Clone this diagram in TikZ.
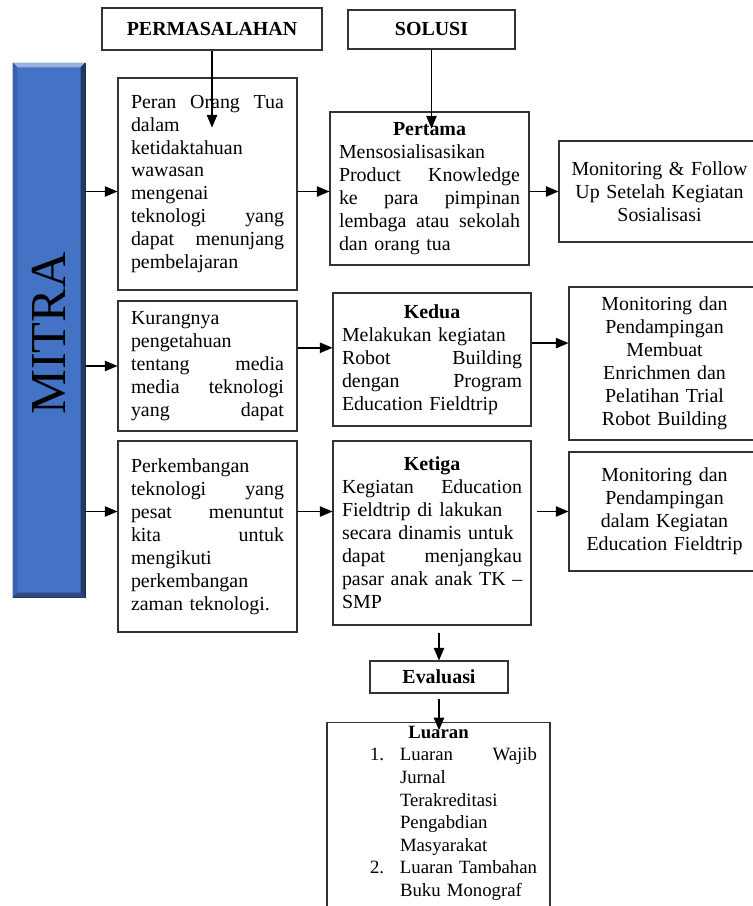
\documentclass[tikz,border=0pt]{standalone}
\usepackage{fontspec}
\setmainfont{Liberation Serif}
\usetikzlibrary{arrows}
\newlength\pxu
\setlength\pxu{0.03cm}
\definecolor{mitrablue}{RGB}{68,114,196}

\begin{document}
\begin{tikzpicture}[x=0.03cm,y=-0.03cm,
  kotak/.style={draw=black!80,line width=0.9pt,inner ysep=0pt,font=\fontsize{17}{19.6}\selectfont},
  kiri/.style={kotak,align=left,inner xsep=13\pxu},
  solusibox/.style={kotak,align=left,inner xsep=9\pxu},
  tengah/.style={kotak,align=center,inner xsep=8\pxu},
  judul/.style={kotak,font=\fontsize{17}{19.6}\selectfont\bfseries},
  panah/.style={-triangle 45,line width=1.5pt}]
\useasboundingbox (0,0) rectangle (752,906);
\node [judul,minimum width=220\pxu,minimum height=42\pxu] (judulA) at (212,29) {PERMASALAHAN};
\node [judul,minimum width=167\pxu,minimum height=39\pxu] (judulB) at (431.5,29.5) {SOLUSI};
\node [fill=mitrablue,draw=mitrablue!40!black,line width=0.6pt,minimum width=72\pxu,minimum height=534\pxu] (mitra) at (49,330) {};
\fill [mitrablue!55!white] (mitra.north west) -- (mitra.north east) -- ([xshift=-4pt,yshift=-4pt]mitra.north east) -- ([xshift=4pt,yshift=-4pt]mitra.north west) -- cycle;
\fill [mitrablue!50!black] (mitra.north east) -- (mitra.south east) -- ([xshift=-4pt,yshift=4pt]mitra.south east) -- ([xshift=-4pt,yshift=-4pt]mitra.north east) -- cycle;
\fill [mitrablue!65!black] (mitra.south west) -- (mitra.south east) -- ([xshift=-4pt,yshift=4pt]mitra.south east) -- ([xshift=4pt,yshift=4pt]mitra.south west) -- cycle;
\fill [mitrablue!85!black] (mitra.north west) -- (mitra.south west) -- ([xshift=4pt,yshift=4pt]mitra.south west) -- ([xshift=4pt,yshift=-4pt]mitra.north west) -- cycle;
\node [rotate=90,font=\fontsize{43}{43}\selectfont] (labelMitra) at ([yshift=-3pt]mitra.center) {MITRA};
\node [kiri,text width=153\pxu,minimum height=212\pxu] (masalah1) at (207.5,184) {Peran\hfill Orang\hfill Tua\\ dalam\\ ketidaktahuan\\ wawasan\\ mengenai\\ teknologi\hfill yang\\ dapat\hfill menunjang\\ pembelajaran};
\node [kiri,text width=153\pxu,minimum height=130\pxu] (masalah2) at (207.5,366) {Kurangnya\\ pengetahuan\\ tentang\hfill media\\ media\hfill teknologi\\ yang\hfill dapat};
\node [kiri,text width=153\pxu,minimum height=191\pxu] (masalah3) at (207.5,536.5) {Perkembangan\\ teknologi\hfill yang\\ pesat\hfill menuntut\\ kita\hfill untuk\\ mengikuti\\ perkembangan\\ zaman teknologi.};
\node [solusibox,text width=181\pxu,minimum height=153\pxu] (solusi1) at (429.5,188.5) {\hfill\textbf{Pertama}\hfill\null\\ Mensosialisasikan\\ Product\hfill Knowledge\\ ke\hfill para\hfill pimpinan\\ lembaga\hfill atau\hfill sekolah\\ dan orang tua};
\node [solusibox,text width=180\pxu,minimum height=133\pxu] (solusi2) at (432,359.5) {\hfill\textbf{Kedua}\hfill\null\\ Melakukan kegiatan\\ Robot\hfill Building\\ dengan\hfill Program\\ Education Fieldtrip};
\node [solusibox,text width=180\pxu,minimum height=184\pxu] (solusi3) at (432,533) {\hfill\textbf{Ketiga}\hfill\null\\ Kegiatan\hfill Education\\ Fieldtrip di lakukan\\ secara dinamis untuk\\ dapat\hfill menjangkau\\ \mbox{pasar anak anak TK --}\\ SMP};
\node [tengah,text width=185\pxu,minimum height=101\pxu] (monitor1) at (659.5,191.5) {Monitoring \& Follow\\ Up Setelah Kegiatan\\ Sosialisasi};
\node [tengah,text width=175\pxu,minimum height=153\pxu] (monitor2) at (664.5,363.5) {Monitoring dan\\ Pendampingan\\ Membuat\\ Enrichmen dan\\ Pelatihan Trial\\ Robot Building};
\node [tengah,text width=175\pxu,minimum height=119\pxu] (monitor3) at (664.5,511.5) {Monitoring dan\\ Pendampingan\\ dalam Kegiatan\\ Education Fieldtrip};
\node [judul,minimum width=138\pxu,minimum height=32\pxu] (evaluasi) at (439,677) {Evaluasi};
\node [kiri,text width=197\pxu,anchor=north,inner ysep=3pt,font=\fontsize{16}{19.3}\selectfont] (luaran) at (438.5,722) {\hfill\textbf{Luaran}\hfill\null\\
  \hspace*{30\pxu}\makebox[30\pxu][l]{1.}Luaran\hfill Wajib\\
  \hspace*{60\pxu}Jurnal\\
  \hspace*{60\pxu}Terakreditasi\\
  \hspace*{60\pxu}Pengabdian\\
  \hspace*{60\pxu}Masyarakat\\
  \hspace*{30\pxu}\makebox[30\pxu][l]{2.}Luaran\hfill Tambahan\\
  \hspace*{60\pxu}Buku Monograf\\ \mbox{}};
\draw [panah] (judulA.south) -- ++(0,77);
\draw [panah] (judulB.south) -- ++(0,79);
\draw [panah] (mitra.east |- monitor1.west) -- (masalah1.west |- monitor1.west);
\draw [panah] (masalah1.east |- monitor1.west) -- (solusi1.west |- monitor1.west);
\draw [panah] (solusi1.east |- monitor1.west) -- (monitor1.west);
\draw [panah] (mitra.east |- masalah2.west) -- (masalah2.west);
\draw [panah] ([yshift=10pt]masalah2.east |- solusi2.west) -- ([yshift=10pt]solusi2.west);
\draw [panah] ([yshift=14pt]solusi2.east) -- ([yshift=14pt]solusi2.east -| monitor2.west);
\draw [panah] (mitra.east |- monitor3.west) -- (masalah3.west |- monitor3.west);
\draw [panah] (masalah3.east |- monitor3.west) -- (solusi3.west |- monitor3.west);
\draw [panah] ([xshift=5pt]solusi3.east |- monitor3.west) -- (monitor3.west);
\draw [panah] ([yshift=-6pt]evaluasi.north |- solusi3.south) -- (evaluasi.north);
\draw [panah] ([yshift=-5pt]evaluasi.south) -- ([yshift=-7pt]luaran.north -| evaluasi.south);
\end{tikzpicture}
\end{document}
